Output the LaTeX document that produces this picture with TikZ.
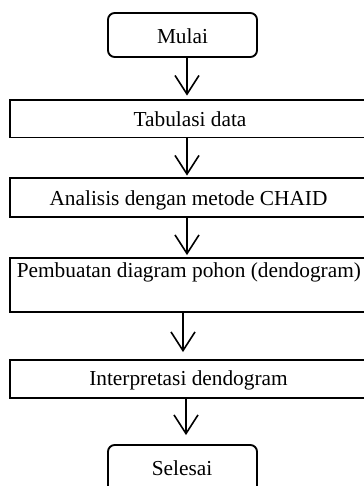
\documentclass[tikz,border=0pt]{standalone}
\usepackage{fontspec}
\setmainfont{Liberation Serif}
\usetikzlibrary{arrows.meta,calc}
\begin{document}
\begin{tikzpicture}[x=0.75pt,y=-0.75pt,
  box/.style={draw, line width=1.4pt, inner sep=0pt},
  term/.style={box, rounded corners=5pt},
  lbl/.style={anchor=base, inner sep=0pt, font=\fontsize{16}{19}\selectfont},
  lblleft/.style={lbl, anchor=base west},
  arr/.style={line width=1.2pt, -{Straight Barb[length=14pt,width=18pt,line width=1.2pt]}}]
\clip (0,0) rectangle (364,486);
% boxes
\node[term, minimum width=111.75pt, minimum height=33pt]   (m) at (182.5,35) {};
\node[box,  minimum width=270pt,    minimum height=28.1pt] (t) at (190,118.75) {};
\node[box,  minimum width=270pt,    minimum height=29.25pt](c) at (190,197.5) {};
\node[box,  minimum width=270pt,    minimum height=40.5pt] (p) at (190,285) {};
\node[box,  minimum width=270pt,    minimum height=28.5pt] (i) at (190,379) {};
\node[term, minimum width=111.75pt, minimum height=41.25pt](s) at (182.5,472.5) {};
% texts
\node[lbl] (mT) at (182.5,43.5) {Mulai};
\node[lbl] (tT) at (190,126.7) {Tabulasi data};
\node[lbl] (cT) at (188.5,205) {Analisis dengan metode CHAID};
\node[lblleft] (pT) at (16.5,277.5) {Pembuatan diagram pohon (dendogram)};
\node[lbl] (iT) at (188.5,385) {Interpretasi dendogram};
\node[lbl] (sT) at (182,475) {Selesai};
% connectors
\coordinate (a1) at (187,0);
\coordinate (a2) at (187,0);
\coordinate (a3) at (187,0);
\coordinate (a4) at (183,0);
\coordinate (a5) at (186,0);
\draw[arr] (m.south -| a1) -- ($(t.north -| a1)+(0,-3.5)$);
\draw[arr] (t.south -| a2) -- ($(c.north -| a2)+(0,-1.5)$);
\draw[arr] (c.south -| a3) -- ($(p.north -| a3)+(0,-2)$);
\draw[arr] (p.south -| a4) -- ($(i.north -| a4)+(0,-7)$);
\draw[arr] (i.south -| a5) -- ($(s.north -| a5)+(0,-9)$);
\end{tikzpicture}
\end{document}
